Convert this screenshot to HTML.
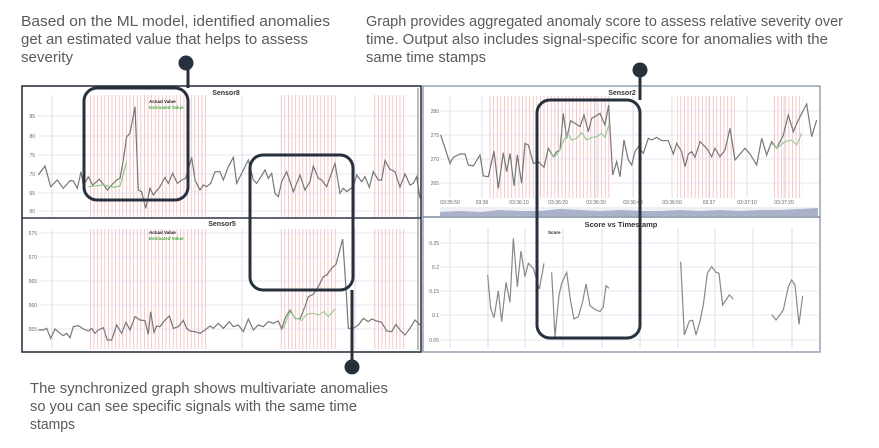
<!DOCTYPE html>
<html><head><meta charset="utf-8"><style>
html,body{margin:0;padding:0;background:#fff;}
svg{display:block;font-family:"Liberation Sans",sans-serif;}
</style></head><body>
<svg width="879" height="448" viewBox="0 0 879 448" xmlns="http://www.w3.org/2000/svg">
<defs>
<pattern id="rp" width="3.6" height="10" patternUnits="userSpaceOnUse"><rect x="0" y="0" width="0.8" height="10" fill="#f0a8a8"/></pattern>
</defs>
<rect width="879" height="448" fill="#fff"/>
<g fill="#5a5a5a" font-size="14.5">
<text x="21" y="26" textLength="309" lengthAdjust="spacingAndGlyphs">Based on the ML model, identified anomalies</text>
<text x="21" y="44" textLength="287" lengthAdjust="spacingAndGlyphs">get an estimated value that helps to assess</text>
<text x="21" y="62" textLength="52" lengthAdjust="spacingAndGlyphs">severity</text>
<text x="366" y="26" textLength="477" lengthAdjust="spacingAndGlyphs">Graph provides aggregated anomaly score to assess relative severity over</text>
<text x="366" y="44" textLength="462" lengthAdjust="spacingAndGlyphs">time. Output also includes signal-specific score for anomalies with the</text>
<text x="366" y="62" textLength="120" lengthAdjust="spacingAndGlyphs">same time stamps</text>
<text x="30" y="393" textLength="358" lengthAdjust="spacingAndGlyphs">The synchronized graph shows multivariate anomalies</text>
<text x="30" y="411" textLength="327" lengthAdjust="spacingAndGlyphs">so you can see specific signals with the same time</text>
<text x="30" y="429" textLength="45" lengthAdjust="spacingAndGlyphs">stamps</text>
</g>

<rect x="22" y="86" width="399" height="266" fill="#fff"/>
<rect x="423" y="86" width="397" height="266" fill="#fff"/>

<g fill="url(#rp)" opacity="0.8">
<rect x="88" y="95" width="119" height="122"/><rect x="278" y="95" width="59" height="122"/><rect x="373" y="95" width="32" height="122"/>
<rect x="88" y="229" width="119" height="120"/><rect x="278" y="229" width="59" height="120"/><rect x="373" y="229" width="32" height="120"/>
<rect x="487" y="96" width="123" height="102"/><rect x="677" y="96" width="58" height="102"/><rect x="772" y="96" width="31" height="102"/>
</g>

<g stroke="#dde" stroke-width="0.7">
<line x1="38" y1="116" x2="418" y2="116"/><line x1="38" y1="136" x2="418" y2="136"/><line x1="38" y1="155" x2="418" y2="155"/><line x1="38" y1="174" x2="418" y2="174"/><line x1="38" y1="193" x2="418" y2="193"/><line x1="38" y1="211" x2="418" y2="211"/>
<line x1="38" y1="233" x2="418" y2="233"/><line x1="38" y1="257" x2="418" y2="257"/><line x1="38" y1="281" x2="418" y2="281"/><line x1="38" y1="305" x2="418" y2="305"/><line x1="38" y1="329" x2="418" y2="329"/>
<line x1="440" y1="111" x2="818" y2="111"/><line x1="440" y1="135" x2="818" y2="135"/><line x1="440" y1="159" x2="818" y2="159"/><line x1="440" y1="183" x2="818" y2="183"/>
<line x1="440" y1="243" x2="818" y2="243"/><line x1="440" y1="267" x2="818" y2="267"/><line x1="440" y1="291" x2="818" y2="291"/><line x1="440" y1="315" x2="818" y2="315"/><line x1="440" y1="340" x2="818" y2="340"/>
</g>
<g stroke="#d4d6e4" stroke-width="0.8">
<line x1="52" y1="95" x2="52" y2="217"/><line x1="242" y1="95" x2="242" y2="217"/><line x1="355" y1="95" x2="355" y2="217"/>
<line x1="52" y1="229" x2="52" y2="349"/><line x1="242" y1="229" x2="242" y2="349"/><line x1="355" y1="229" x2="355" y2="349"/>
<line x1="450" y1="96" x2="450" y2="198"/><line x1="482" y1="96" x2="482" y2="198"/><line x1="519" y1="96" x2="519" y2="198"/><line x1="558" y1="96" x2="558" y2="198"/><line x1="596" y1="96" x2="596" y2="198"/><line x1="633" y1="96" x2="633" y2="198"/><line x1="672" y1="96" x2="672" y2="198"/><line x1="709" y1="96" x2="709" y2="198"/><line x1="747" y1="96" x2="747" y2="198"/><line x1="784" y1="96" x2="784" y2="198"/>
<line x1="450" y1="228" x2="450" y2="348"/><line x1="488" y1="228" x2="488" y2="348"/><line x1="525" y1="228" x2="525" y2="348"/><line x1="563" y1="228" x2="563" y2="348"/><line x1="602" y1="228" x2="602" y2="348"/><line x1="640" y1="228" x2="640" y2="348"/><line x1="678" y1="228" x2="678" y2="348"/><line x1="715" y1="228" x2="715" y2="348"/><line x1="753" y1="228" x2="753" y2="348"/><line x1="792" y1="228" x2="792" y2="348"/>
</g>

<g fill="#666" font-size="5" text-anchor="end">
<text x="35" y="118">85</text><text x="35" y="138">80</text><text x="35" y="157">75</text><text x="35" y="176">70</text><text x="35" y="195">65</text><text x="35" y="213">60</text>
<text x="37" y="235">575</text><text x="37" y="259">570</text><text x="37" y="283">565</text><text x="37" y="307">560</text><text x="37" y="331">555</text>
<text x="439" y="113">280</text><text x="439" y="137">275</text><text x="439" y="161">270</text><text x="439" y="185">265</text>
<text x="439" y="245">0.25</text><text x="439" y="269">0.2</text><text x="439" y="293">0.15</text><text x="439" y="317">0.1</text><text x="439" y="342">0.05</text>
</g>
<g fill="#666" font-size="5" text-anchor="middle">
<text x="450" y="204">03:35:50</text><text x="482" y="204">03:36</text><text x="519" y="204">03:36:10</text><text x="558" y="204">03:36:20</text><text x="596" y="204">03:36:30</text><text x="633" y="204">03:36:40</text><text x="672" y="204">03:36:50</text><text x="709" y="204">03:37</text><text x="747" y="204">03:37:10</text><text x="784" y="204">03:37:20</text>
</g>
<g fill="#333" font-weight="bold" text-anchor="middle">
<text x="226" y="95" font-size="7">Sensor8</text>
<text x="222" y="226" font-size="7">Sensor5</text>
<text x="622" y="95" font-size="7">Sensor2</text>
<text x="621" y="227" font-size="7.5">Score vs Timestamp</text>
</g>
<g font-size="4.5" font-weight="bold">
<text x="149" y="103" fill="#222">Actual Value</text><text x="149" y="109" fill="#4a4">Estimated Value</text>
<text x="149" y="234" fill="#222">Actual Value</text><text x="149" y="240" fill="#4a4">Estimated Value</text>
<text x="548" y="234" fill="#222">Score</text>
</g>

<rect x="440" y="207" width="378" height="9" fill="#eef0f6"/>
<path d="M440,216 L440,212 460,211 480,212 500,210 520,211 540,211 560,209 580,210 600,211 620,210 640,211 660,211 680,210 700,211 720,210 740,211 760,210 780,210 800,209 818,208 L818,216Z" fill="#aab1c9"/>

<g transform="translate(20,80) scale(0.33333)" fill="none">
<polyline vector-effect="non-scaling-stroke" stroke-width="1.2" stroke="#777" points="55,285 75,258 92,320 112,300 130,325 150,302 160,303 172,325 183,275 190,318 205,290 218,315 238,298 248,310 262,330 275,315 290,300 300,295 310,240 320,170 330,160 345,80 355,330 365,335 377,385 390,325 400,345 420,320 435,292 445,310 458,280 472,310 485,300 497,295 515,232 525,300 540,330 550,315 560,320 572,310 585,275 600,275 610,300 625,260 640,232 650,310 665,280 685,240 700,300 710,310 720,295 735,270 745,295 755,280 765,340 775,350 785,305 800,275 820,335 840,285 855,330 870,305 880,258 895,295 905,300 920,320 945,250 960,340 970,325 980,335 1000,320 1010,285 1025,305 1035,290 1048,322 1060,275 1075,300 1085,300 1095,242 1110,268 1125,275 1140,322 1155,282 1170,315 1180,310 1190,290 1200,355"/>
<polyline vector-effect="non-scaling-stroke" stroke-width="1.2" stroke="#8c8" points="205,320 250,315 280,322 300,318 320,245"/>
</g>
<g transform="translate(420,80) scale(0.33333)" fill="none">
<polyline vector-effect="non-scaling-stroke" stroke-width="1.2" stroke="#777" points="62,165 90,250 100,232 120,222 135,222 145,255 160,258 180,225 190,288 205,290 222,213 235,325 250,218 260,275 270,220 282,317 292,225 305,310 315,190 325,195 340,250 355,245 372,262 385,205 400,230 410,215 420,210 430,100 440,175 452,122 465,130 480,140 492,105 505,155 515,115 528,108 540,100 555,135 566,75 578,285 590,245 600,290 612,180 625,240 635,255 645,215 655,200 670,220 685,175 695,180 710,172 725,182 745,182 760,222 770,190 785,215 795,260 805,222 815,215 825,232 840,185 860,205 875,230 885,205 900,230 915,210 930,145 945,240 960,222 975,205 990,222 1010,255 1025,175 1040,225 1055,185 1070,205 1090,165 1105,105 1120,155 1135,120 1160,72 1175,170 1190,120"/>
<polyline vector-effect="non-scaling-stroke" stroke-width="1.2" stroke="#9c9" points="390,220 405,230 420,210 432,180 445,162 455,180 470,175 485,158 500,180 515,172 530,170 545,160 555,172 568,130"/>
<polyline vector-effect="non-scaling-stroke" stroke-width="1.2" stroke="#9c9" points="1055,190 1070,205 1095,185 1115,180 1130,195 1145,160"/>
</g>
<g transform="translate(20,215) scale(0.33333)" fill="none">
<polyline vector-effect="non-scaling-stroke" stroke-width="1.2" stroke="#777" points="55,345 70,345 80,340 92,370 105,342 120,355 130,362 140,355 150,368 160,335 175,332 190,342 205,348 215,340 225,355 235,345 250,338 262,375 275,375 290,330 305,355 318,322 330,345 345,305 360,315 375,317 385,358 392,290 402,352 410,333 420,335 435,315 448,303 460,340 475,335 490,316 500,340 510,348 525,350 540,355 555,345 570,333 580,340 595,325 610,340 628,320 640,335 655,330 670,350 685,312 700,345 715,330 730,335 745,320 760,325 775,318 785,342 795,310 810,285 825,310 840,312 855,275 865,245 880,238 895,215 910,185 920,180 935,160 948,148 968,72 978,220 985,340 1000,340 1015,330 1030,310 1045,320 1055,312 1070,318 1085,322 1100,348 1115,350 1128,328 1140,345 1155,360 1170,340 1185,315 1200,330"/>
<polyline vector-effect="non-scaling-stroke" stroke-width="1.2" stroke="#9c9" points="790,340 810,290 825,308 845,316 860,298 880,295 895,300 912,290 925,305 945,282"/>
</g>
<g transform="translate(420,215) scale(0.33333)" fill="none" stroke="#888">
<polyline vector-effect="non-scaling-stroke" stroke-width="1.2" points="203,180 212,280 222,308 235,228 245,320 258,202 270,262 280,70 292,215 303,108 315,185 325,145 340,160 358,222 372,145"/>
<polyline vector-effect="non-scaling-stroke" stroke-width="1.2" points="395,172 405,365 417,240 425,205 440,172 452,260 462,312 475,305 488,260 498,207 510,272 525,283 540,290 550,275 558,212 567,220"/>
<polyline vector-effect="non-scaling-stroke" stroke-width="1.2" points="782,140 793,360 808,318 818,316 828,360 840,318 850,270 862,175 875,155 888,172 897,175 908,270 928,240 940,252"/>
<polyline vector-effect="non-scaling-stroke" stroke-width="1.2" points="1055,298 1068,315 1090,285 1105,215 1115,195 1125,210 1137,328 1148,242"/>
</g>

<g fill="none">
<rect x="22" y="86" width="399" height="266" stroke="#2e3440" stroke-width="1.6"/>
<line x1="22" y1="218" x2="421" y2="218" stroke="#2e3440" stroke-width="1.6"/>
<line x1="418" y1="88" x2="418" y2="350" stroke="#555" stroke-width="0.8"/>
<rect x="423" y="86" width="397" height="266" stroke="#7a8aa0" stroke-width="1.2"/>
<line x1="423" y1="217" x2="820" y2="217" stroke="#7a8aa0" stroke-width="1.5"/>
</g>

<g fill="none" stroke="#27303d" stroke-width="3">
<rect x="84" y="88" width="104" height="112" rx="13"/>
<rect x="250" y="155" width="103" height="135" rx="13"/>
<rect x="537" y="100" width="103" height="238" rx="13"/>
<line x1="188" y1="64" x2="188" y2="88"/>
<line x1="352" y1="290" x2="352" y2="366"/>
<line x1="640" y1="70" x2="640" y2="100"/>
</g>
<g fill="#27303d">
<circle cx="186" cy="63" r="7.5"/>
<circle cx="352" cy="367" r="7.5"/>
<circle cx="640" cy="70" r="7.5"/>
</g>
</svg>
</body></html>
